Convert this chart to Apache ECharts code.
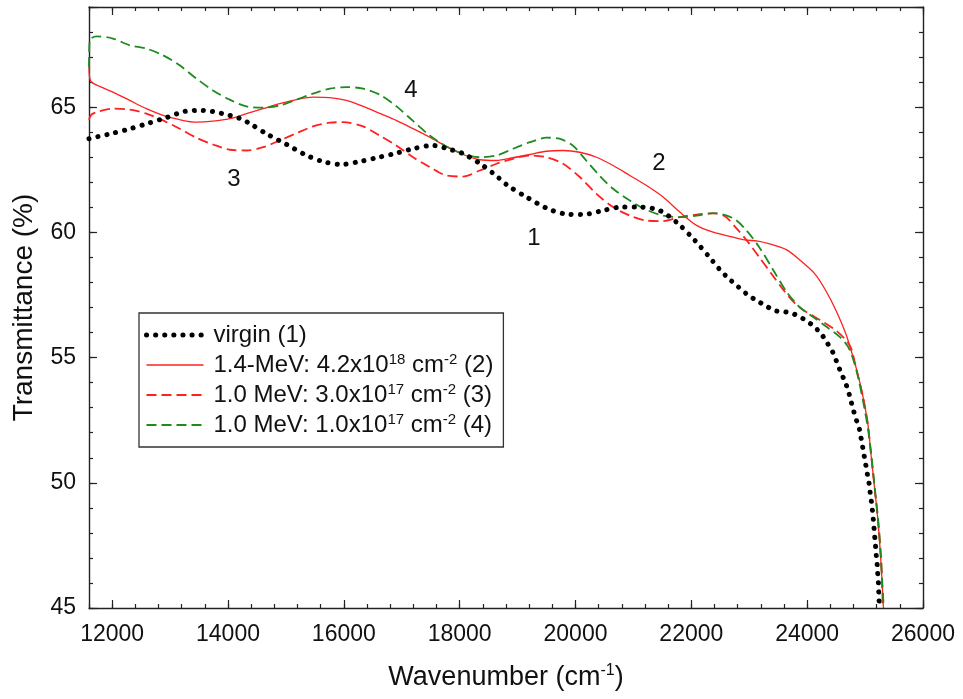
<!DOCTYPE html>
<html>
<head>
<meta charset="utf-8">
<script src="https://cdn.jsdelivr.net/npm/echarts@6/dist/echarts.min.js"></script>
<style>
html,body{margin:0;padding:0;background:#fff;}
#chart{width:963px;height:699px;}
</style>
</head>
<body>
<div id="chart"></div>
<script>
// ---- data ----
const seriesNames = [
  'virgin (1)',
  '1.4-MeV: 4.2x10^18 cm^-2 (2)',
  '1.0 MeV: 3.0x10^17 cm^-2 (3)',
  '1.0 MeV: 1.0x10^17 cm^-2 (4)'
];
const xTickLabels = [12000, 14000, 16000, 18000, 20000, 22000, 24000, 26000];
const yTickLabels = [45, 50, 55, 60, 65];

const virginX = [11600, 11992, 12268, 12614, 12942, 13253, 13564, 13892, 14202, 14375, 14686, 15014, 15325, 15636, 15947, 16275, 16586, 16905, 17190, 17535, 17858, 18053, 18376, 18658, 18830, 19154, 19499, 19815, 20126, 20471, 20794, 21110, 21455, 21766, 22060, 22345, 22489, 22644, 22793, 22960, 23121, 23282, 23448, 23609, 23770, 23937, 24098, 24241, 24345, 24443, 24517, 24586, 24655, 24713, 24759, 24805, 24856, 24902, 24931, 24960, 24989, 25017, 25046, 25075, 25092, 25115, 25132, 25149, 25161, 25178, 25190, 25207, 25218, 25230, 25236, 25247];
const virginY = [63.74, 63.95, 64.11, 64.35, 64.59, 64.83, 64.87, 64.75, 64.55, 64.35, 63.91, 63.51, 63.11, 62.83, 62.71, 62.83, 62.99, 63.16, 63.34, 63.47, 63.30, 63.15, 62.71, 62.21, 61.87, 61.41, 60.97, 60.74, 60.71, 60.87, 61.01, 61.01, 60.87, 60.36, 59.68, 58.92, 58.52, 58.16, 57.86, 57.53, 57.29, 57.07, 56.87, 56.83, 56.74, 56.54, 56.28, 55.95, 55.59, 55.21, 54.79, 54.39, 54.03, 53.64, 53.24, 52.85, 52.46, 52.14, 51.78, 51.40, 51.01, 50.65, 50.25, 49.89, 49.51, 49.15, 48.76, 48.36, 47.97, 47.57, 47.18, 46.79, 46.39, 46.00, 45.61, 45.00];

const mev14X = [11600, 11629, 11785, 12014, 12302, 12591, 12878, 13166, 13455, 13741, 14030, 14318, 14605, 14893, 15182, 15468, 15757, 16045, 16332, 16620, 16905, 17195, 17483, 17772, 18059, 18347, 18636, 18922, 19211, 19499, 19786, 20074, 20362, 20649, 20938, 21226, 21513, 21801, 22089, 22376, 22718, 22920, 23149, 23351, 23638, 23868, 24126, 24328, 24500, 24672, 24787, 24874, 24960, 25046, 25103, 25161, 25218, 25264, 25293, 25316];
const mev14Y = [66.60, 66.04, 65.83, 65.60, 65.27, 64.94, 64.67, 64.50, 64.40, 64.44, 64.54, 64.74, 64.94, 65.14, 65.30, 65.40, 65.38, 65.27, 65.03, 64.75, 64.47, 64.14, 63.80, 63.43, 63.11, 62.90, 62.87, 62.98, 63.11, 63.24, 63.27, 63.20, 63.00, 62.67, 62.27, 61.87, 61.41, 60.81, 60.28, 60.01, 59.81, 59.70, 59.65, 59.54, 59.31, 58.91, 58.36, 57.65, 56.87, 55.92, 55.06, 54.35, 53.48, 52.38, 51.12, 49.86, 48.60, 47.18, 46.08, 45.00];

const mev10aX = [11600, 11640, 11728, 12014, 12303, 12591, 12878, 13166, 13455, 13741, 14030, 14318, 14605, 14893, 15182, 15468, 15757, 15986, 16332, 16616, 16905, 17195, 17483, 17772, 18059, 18347, 18636, 18922, 19211, 19499, 19786, 20074, 20362, 20649, 20938, 21226, 21513, 21801, 22089, 22376, 22575, 22776, 22977, 23178, 23379, 23580, 23782, 23925, 24126, 24299, 24500, 24672, 24759, 24845, 24960, 25046, 25103, 25161, 25218, 25276, 25305];
const mev10aY = [64.50, 64.70, 64.80, 64.94, 64.90, 64.74, 64.47, 64.14, 63.78, 63.51, 63.30, 63.27, 63.40, 63.67, 63.96, 64.23, 64.38, 64.40, 64.23, 63.87, 63.47, 63.00, 62.61, 62.27, 62.23, 62.47, 62.74, 62.94, 63.07, 63.00, 62.74, 62.21, 61.54, 61.01, 60.67, 60.47, 60.45, 60.61, 60.71, 60.76, 60.65, 60.17, 59.62, 58.99, 58.36, 57.73, 57.18, 56.91, 56.63, 56.39, 56.08, 55.69, 55.37, 54.58, 53.48, 52.38, 51.12, 49.86, 48.60, 47.02, 45.00];

const mev10bX = [11600, 11612, 11728, 12014, 12303, 12591, 12878, 13166, 13455, 13741, 14030, 14318, 14605, 14893, 15182, 15468, 15757, 16045, 16332, 16620, 16905, 17195, 17483, 17772, 18059, 18347, 18636, 18922, 19211, 19499, 19723, 19953, 20184, 20414, 20649, 20938, 21226, 21513, 21801, 22089, 22374, 22718, 22948, 23178, 23408, 23638, 23868, 24098, 24328, 24557, 24701, 24787, 24874, 24960, 25046, 25115, 25172, 25230, 25276, 25322];
const mev10bY = [66.60, 67.67, 67.83, 67.74, 67.47, 67.34, 67.07, 66.67, 66.14, 65.67, 65.30, 65.03, 64.98, 65.07, 65.30, 65.54, 65.74, 65.80, 65.74, 65.50, 65.04, 64.45, 63.87, 63.43, 63.14, 63.00, 63.07, 63.34, 63.60, 63.78, 63.74, 63.47, 62.87, 62.27, 61.74, 61.27, 60.90, 60.67, 60.61, 60.67, 60.77, 60.57, 60.09, 59.39, 58.52, 57.65, 57.02, 56.63, 56.24, 55.84, 55.45, 54.98, 54.27, 53.32, 52.22, 50.96, 49.70, 48.44, 46.87, 45.00];

const curveLabels = ['1', '2', '3', '4'];

// ---- chart ----
const FONT = '"Liberation Sans", Arial, sans-serif';
const pairs = (xs, ys) => xs.map((x, i) => [x, ys[i]]);
const toRich = s => s.replace(/\^(\S+)/g, '{sup|$1}');
const AXC = '#222';
const RED = '#ff2020';
const GREEN = '#1f8a1f';

const chart = echarts.init(document.getElementById('chart'), null, {renderer: 'canvas'});

const X_MIN = 11600, X_MAX = 26000, Y_MIN = 45, Y_MAX = 69;

function xAx(pos, major, withLabel) {
  const ax = {
    type: 'value', position: pos, min: X_MIN, max: X_MAX, interval: 400,
    splitLine: {show: false},
    axisLine: {show: !major, onZero: false, lineStyle: {color: AXC, width: 1.4}},
    axisTick: {show: true, inside: true, length: major ? 8 : 4, lineStyle: {color: AXC, width: 1.2}},
    axisLabel: {show: false}
  };
  if (major) ax.axisTick.customValues = xTickLabels;
  if (withLabel) {
    ax.axisLabel = {
      show: true, margin: 15, color: '#111', fontSize: 23, fontFamily: FONT,
      formatter: v => (xTickLabels.indexOf(v) >= 0 ? String(v) : '')
    };
    ax.name = 'Wavenumber (cm{sup|-1})';
    ax.nameLocation = 'middle';
    ax.nameGap = 55;
    ax.nameTextStyle = {
      color: '#111', fontSize: 27, fontFamily: FONT, lineHeight: 30,
      rich: {sup: {fontSize: 16, fontFamily: FONT, lineHeight: 16, verticalAlign: 'top', color: '#111'}}
    };
  }
  return ax;
}
function yAx(pos, major, withLabel) {
  const ax = {
    type: 'value', position: pos, min: Y_MIN, max: Y_MAX, interval: major ? 5 : 1,
    splitLine: {show: false},
    axisLine: {show: !major, onZero: false, lineStyle: {color: AXC, width: 1.4}},
    axisTick: {show: true, inside: true, length: major ? 8 : 4, lineStyle: {color: AXC, width: 1.2}},
    axisLabel: {show: false}
  };
  if (withLabel) {
    ax.axisLabel = {
      show: true, margin: 13, color: '#111', fontSize: 23, fontFamily: FONT,
      formatter: v => (yTickLabels.indexOf(v) >= 0 ? String(v) : '')
    };
    ax.name = 'Transmittance (%)';
    ax.nameLocation = 'middle';
    ax.nameGap = 51;
    ax.nameTextStyle = {color: '#111', fontSize: 28, fontFamily: FONT};
  }
  return ax;
}

const lineCommon = {type: 'line', showSymbol: false, symbol: 'none', smooth: 0.3, clip: true,
  xAxisIndex: 0, yAxisIndex: 0, emphasis: {disabled: true}};

const option = {
  animation: false,
  backgroundColor: '#fff',
  grid: {left: 89, right: 40, top: 7, bottom: 91, containLabel: false},
  xAxis: [xAx('bottom', false, true), xAx('bottom', true, false), xAx('top', false, false), xAx('top', true, false)],
  yAxis: [yAx('left', false, true), yAx('left', true, false), yAx('right', false, false), yAx('right', true, false)],
  legend: {
    orient: 'vertical', left: 139, top: 313,
    padding: [9, 10, 9, 5], itemGap: 4, itemWidth: 57, itemHeight: 14,
    borderColor: '#333', borderWidth: 1.3, borderRadius: 0,
    data: seriesNames,
    itemStyle: {opacity: 0},
    lineStyle: {width: 'inherit'},
    formatter: name => toRich(name),
    textStyle: {
      color: '#111', fontSize: 24, fontFamily: FONT, lineHeight: 26, padding: [0, 0, 0, 5],
      rich: {sup: {fontSize: 15, fontFamily: FONT, lineHeight: 14, verticalAlign: 'top', color: '#111'}}
    }
  },
  graphic: [
    {type: 'text', x: 534, y: 238, style: {text: curveLabels[0], font: '24px ' + FONT, fill: '#111', textAlign: 'center', textVerticalAlign: 'middle'}},
    {type: 'text', x: 659, y: 163, style: {text: curveLabels[1], font: '24px ' + FONT, fill: '#111', textAlign: 'center', textVerticalAlign: 'middle'}},
    {type: 'text', x: 234, y: 179, style: {text: curveLabels[2], font: '24px ' + FONT, fill: '#111', textAlign: 'center', textVerticalAlign: 'middle'}},
    {type: 'text', x: 411, y: 90, style: {text: curveLabels[3], font: '24px ' + FONT, fill: '#111', textAlign: 'center', textVerticalAlign: 'middle'}}
  ],
  series: [
    Object.assign({}, lineCommon, {
      name: seriesNames[0], z: 5, data: pairs(virginX, virginY),
      color: '#000',
      lineStyle: {color: '#000', width: 5, type: [0.1, 9], cap: 'round'}
    }),
    Object.assign({}, lineCommon, {
      name: seriesNames[1], z: 3, data: pairs(mev14X, mev14Y),
      color: RED,
      lineStyle: {color: RED, width: 1.3, type: 'solid'}
    }),
    Object.assign({}, lineCommon, {
      name: seriesNames[2], z: 3, data: pairs(mev10aX, mev10aY),
      color: RED,
      lineStyle: {color: RED, width: 1.8, type: [10, 5]}
    }),
    Object.assign({}, lineCommon, {
      name: seriesNames[3], z: 3, data: pairs(mev10bX, mev10bY),
      color: GREEN,
      lineStyle: {color: GREEN, width: 1.8, type: [10, 5]}
    })
  ]
};
chart.setOption(option);
</script>
</body>
</html>
